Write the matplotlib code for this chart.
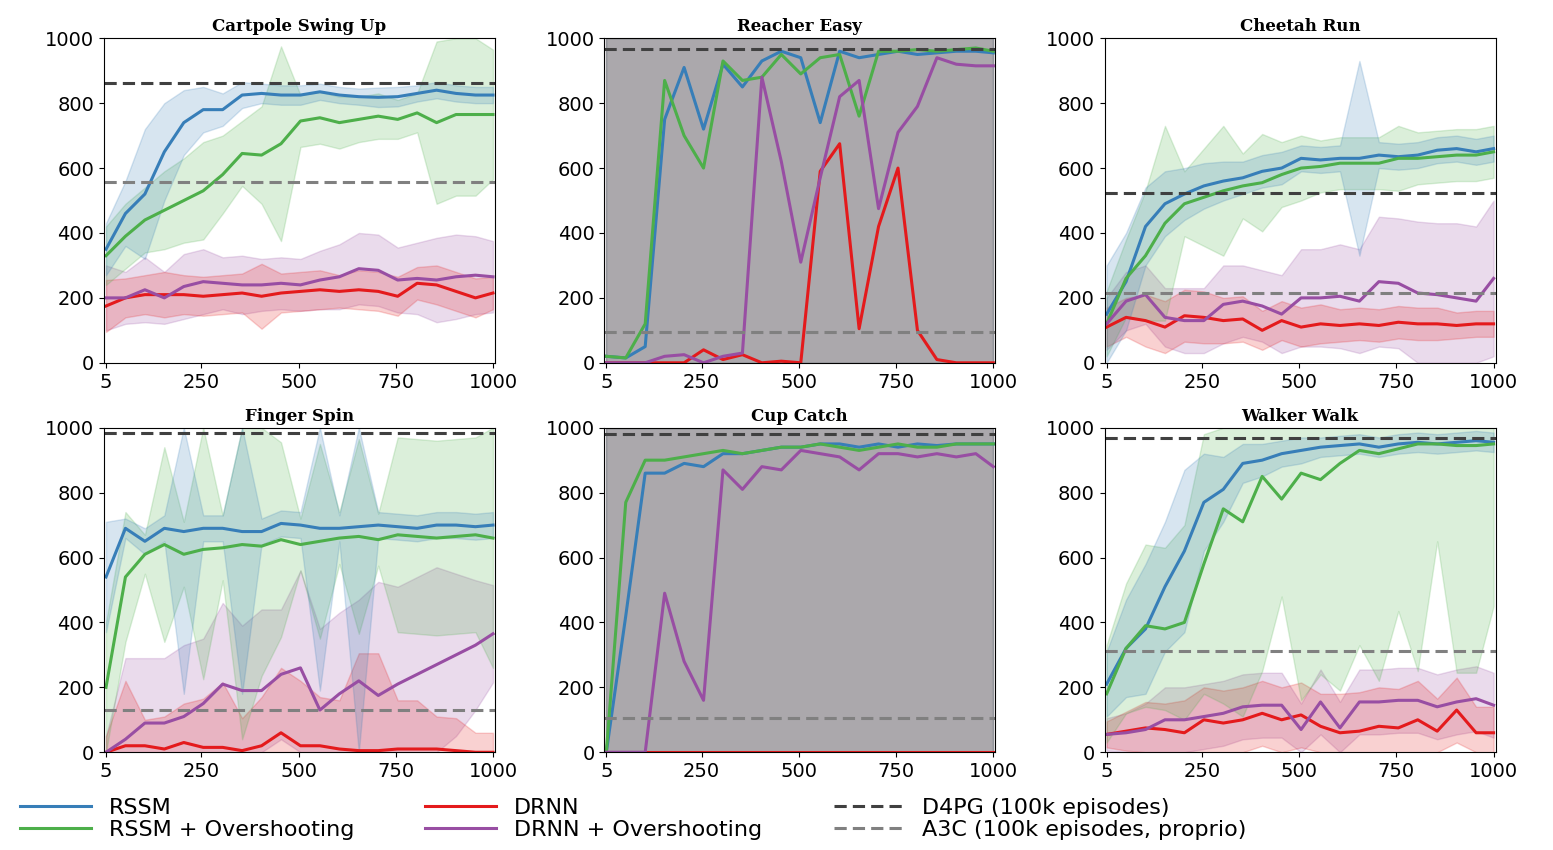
import numpy as np
import matplotlib
matplotlib.use("Agg")
import matplotlib.pyplot as plt

steps = [5] + [55 + 50 * i for i in range(19)] + [1000]

colors = {"rssm": "#377eb8", "rssm_os": "#4daf4a", "drnn": "#e41a1c", "drnn_os": "#984ea3"}

# Cartpole Swing Up
cartpole_rssm = [350,460,520,650,740,780,780,825,830,825,825,835,825,820,818,820,830,840,830,825,825]
cartpole_rssm_sd = [80,100,200,150,100,70,50,40,30,30,30,25,25,25,30,30,25,25,25,25,25]
cartpole_rssm_os = [330,390,440,470,500,530,580,645,640,675,745,755,740,750,760,750,770,740,765,765,765]
cartpole_rssm_os_sd = [90,100,100,120,130,150,120,100,150,300,80,80,80,70,70,60,60,250,250,250,200]
cartpole_drnn = [175,200,210,210,210,205,210,215,205,215,220,225,220,225,220,205,245,240,220,200,215]
cartpole_drnn_sd = [80,60,60,70,60,60,60,60,100,60,60,60,50,60,60,60,50,60,60,60,50]
cartpole_drnn_os = [200,200,225,200,235,250,245,240,240,245,240,255,265,290,285,255,260,255,265,270,265]
cartpole_drnn_os_sd = [100,80,100,80,100,100,80,90,80,80,80,90,100,110,110,100,110,130,130,120,110]

# Reacher Easy
reacher_rssm = [20,15,50,750,910,720,920,850,930,960,940,740,960,940,950,960,950,955,960,960,955]
reacher_rssm_os = [20,15,120,870,700,600,930,870,880,950,890,940,950,760,960,960,965,960,965,970,960]
reacher_drnn = [0,0,0,0,0,40,10,25,0,5,0,590,675,105,420,600,100,10,0,0,0]
reacher_drnn_os = [0,0,0,20,25,0,20,30,880,620,310,570,820,870,475,710,790,940,920,915,915]
reacher_sd = [1000] * 21

# Cheetah Run
cheetah_rssm = [150,250,420,490,520,545,560,570,590,600,630,625,630,630,640,635,640,655,660,650,660]
cheetah_rssm_sd = [150,150,120,100,80,70,60,50,50,50,40,40,40,300,40,40,40,40,40,40,40]
cheetah_rssm_os = [120,260,330,430,490,510,530,545,555,580,600,605,615,615,615,630,630,635,640,640,650]
cheetah_rssm_os_sd = [100,120,200,300,100,150,200,100,150,100,100,80,80,80,80,100,80,80,80,80,80]
cheetah_drnn = [110,140,130,110,145,140,130,135,100,130,110,120,115,120,115,125,120,120,115,120,120]
cheetah_drnn_sd = [60,60,80,80,80,80,70,70,60,60,60,60,50,50,50,50,50,50,40,40,40]
cheetah_drnn_os = [120,190,210,140,130,130,180,190,175,150,200,200,205,190,250,245,215,210,200,190,260]
cheetah_drnn_os_sd = [80,90,90,90,100,100,120,110,110,120,150,150,160,160,200,200,220,220,230,230,240]

# Finger Spin
finger_rssm = [540,690,650,690,680,690,690,680,680,705,700,690,690,695,700,695,690,700,700,695,700]
finger_rssm_sd = [170,30,40,40,500,40,40,500,40,40,40,500,40,700,40,40,40,40,40,40,40]
finger_rssm_os = [200,540,610,640,610,625,630,640,635,655,640,650,660,665,655,670,665,660,665,670,660]
finger_rssm_os_sd = [200,200,60,300,100,400,100,600,400,300,80,300,80,300,80,300,300,300,300,300,400]
finger_drnn = [0,20,20,10,30,15,15,5,20,60,20,20,10,5,5,10,10,10,5,0,0]
finger_drnn_sd = [50,200,80,100,120,150,200,100,150,200,200,150,150,300,300,150,150,100,100,60,60]
finger_drnn_os = [0,40,90,90,110,150,210,190,190,240,260,130,180,220,175,210,240,270,300,330,365]
finger_drnn_os_sd = [50,250,200,200,220,200,250,200,250,200,300,250,250,250,350,300,300,300,250,200,150]

# Cup Catch
cup_rssm = [0,420,860,860,890,880,920,920,930,940,940,950,950,940,950,940,950,945,950,950,950]
cup_rssm_os = [0,770,900,900,910,920,930,920,930,940,940,950,940,930,940,950,940,940,950,950,950]
cup_drnn = [0] * 21
cup_drnn_os = [0,0,0,490,280,160,870,810,880,870,930,920,910,870,920,920,910,920,910,920,880]
cup_sd = [1000] * 21

# Walker Walk
walker_rssm = [210,320,380,510,620,770,810,890,900,920,930,940,945,950,940,950,955,950,955,960,955]
walker_rssm_sd = [100,150,200,200,250,150,100,60,50,40,40,30,30,30,30,30,30,30,30,30,30]
walker_rssm_os = [180,320,390,380,400,580,750,710,850,780,860,840,890,930,920,935,950,950,945,945,950]
walker_rssm_os_sd = [150,200,250,250,300,400,600,600,600,300,700,600,700,600,700,500,700,300,700,700,500]
walker_drnn = [55,65,75,70,60,100,90,100,120,100,115,80,60,65,80,75,100,65,130,60,60]
walker_drnn_sd = [40,60,80,80,100,100,100,100,100,100,100,100,120,120,120,120,120,100,100,80,80]
walker_drnn_os = [55,60,70,100,100,110,120,140,145,145,70,155,75,155,155,160,160,140,155,165,145]
walker_drnn_os_sd = [50,60,80,100,100,100,100,100,100,100,80,100,80,100,100,100,100,100,100,100,100]

panels = [
    ("Cartpole Swing Up", [(cartpole_rssm, cartpole_rssm_sd), (cartpole_rssm_os, cartpole_rssm_os_sd),
                           (cartpole_drnn, cartpole_drnn_sd), (cartpole_drnn_os, cartpole_drnn_os_sd)], 862, 558),
    ("Reacher Easy", [(reacher_rssm, reacher_sd), (reacher_rssm_os, reacher_sd),
                      (reacher_drnn, reacher_sd), (reacher_drnn_os, reacher_sd)], 967, 95),
    ("Cheetah Run", [(cheetah_rssm, cheetah_rssm_sd), (cheetah_rssm_os, cheetah_rssm_os_sd),
                     (cheetah_drnn, cheetah_drnn_sd), (cheetah_drnn_os, cheetah_drnn_os_sd)], 524, 214),
    ("Finger Spin", [(finger_rssm, finger_rssm_sd), (finger_rssm_os, finger_rssm_os_sd),
                     (finger_drnn, finger_drnn_sd), (finger_drnn_os, finger_drnn_os_sd)], 985, 129),
    ("Cup Catch", [(cup_rssm, cup_sd), (cup_rssm_os, cup_sd),
                   (cup_drnn, cup_sd), (cup_drnn_os, cup_sd)], 980, 105),
    ("Walker Walk", [(walker_rssm, walker_rssm_sd), (walker_rssm_os, walker_rssm_os_sd),
                     (walker_drnn, walker_drnn_sd), (walker_drnn_os, walker_drnn_os_sd)], 968, 311),
]

labels = ["RSSM", "RSSM + Overshooting", "DRNN", "DRNN + Overshooting"]
keys = ["rssm", "rssm_os", "drnn", "drnn_os"]

fig, axes = plt.subplots(2, 3, figsize=(15.53, 8.5), dpi=100)
plt.subplots_adjust(left=0.067, right=0.963, top=0.955, bottom=0.115, wspace=0.28, hspace=0.2)

x = np.array(steps)
# fill order: purple and red under, blue on top -> greyer blend where all overlap
fill_order = [3, 2, 1, 0]
for ax, (title, series, d4pg, a3c) in zip(axes.flat, panels):
    for i in fill_order:
        mean, sd = series[i]
        m = np.array(mean, float)
        s = np.array(sd, float)
        ax.fill_between(x, np.clip(m - s, 0, 1000), np.clip(m + s, 0, 1000),
                        color=colors[keys[i]], alpha=0.2, lw=1)
    for (mean, sd), key, lab in zip(series, keys, labels):
        ax.plot(x, mean, color=colors[key], lw=2.2, label=lab)
    ax.axhline(d4pg, color="#404040", ls="--", lw=2.2, dashes=(4, 2), label="D4PG (100k episodes)")
    ax.axhline(a3c, color="#808080", ls="--", lw=2.2, dashes=(4, 2), label="A3C (100k episodes, proprio)")
    ax.set_title(title, fontsize=12, fontweight="bold", family="DejaVu Serif", pad=5)
    ax.set_xlim(0, 1005)
    ax.set_ylim(0, 1000)
    ax.set_xticks([5, 250, 500, 750, 1000])
    ax.set_yticks(range(0, 1001, 200))
    ax.tick_params(labelsize=14)

h, l = axes[0, 0].get_legend_handles_labels()
fig.legend(h, l, loc="lower left", ncol=3, frameon=False, fontsize=16,
           bbox_to_anchor=(0.0, -0.012), columnspacing=3.2, handlelength=3.2,
           labelspacing=0.1, handletextpad=0.8)

fig.savefig("out.png")
